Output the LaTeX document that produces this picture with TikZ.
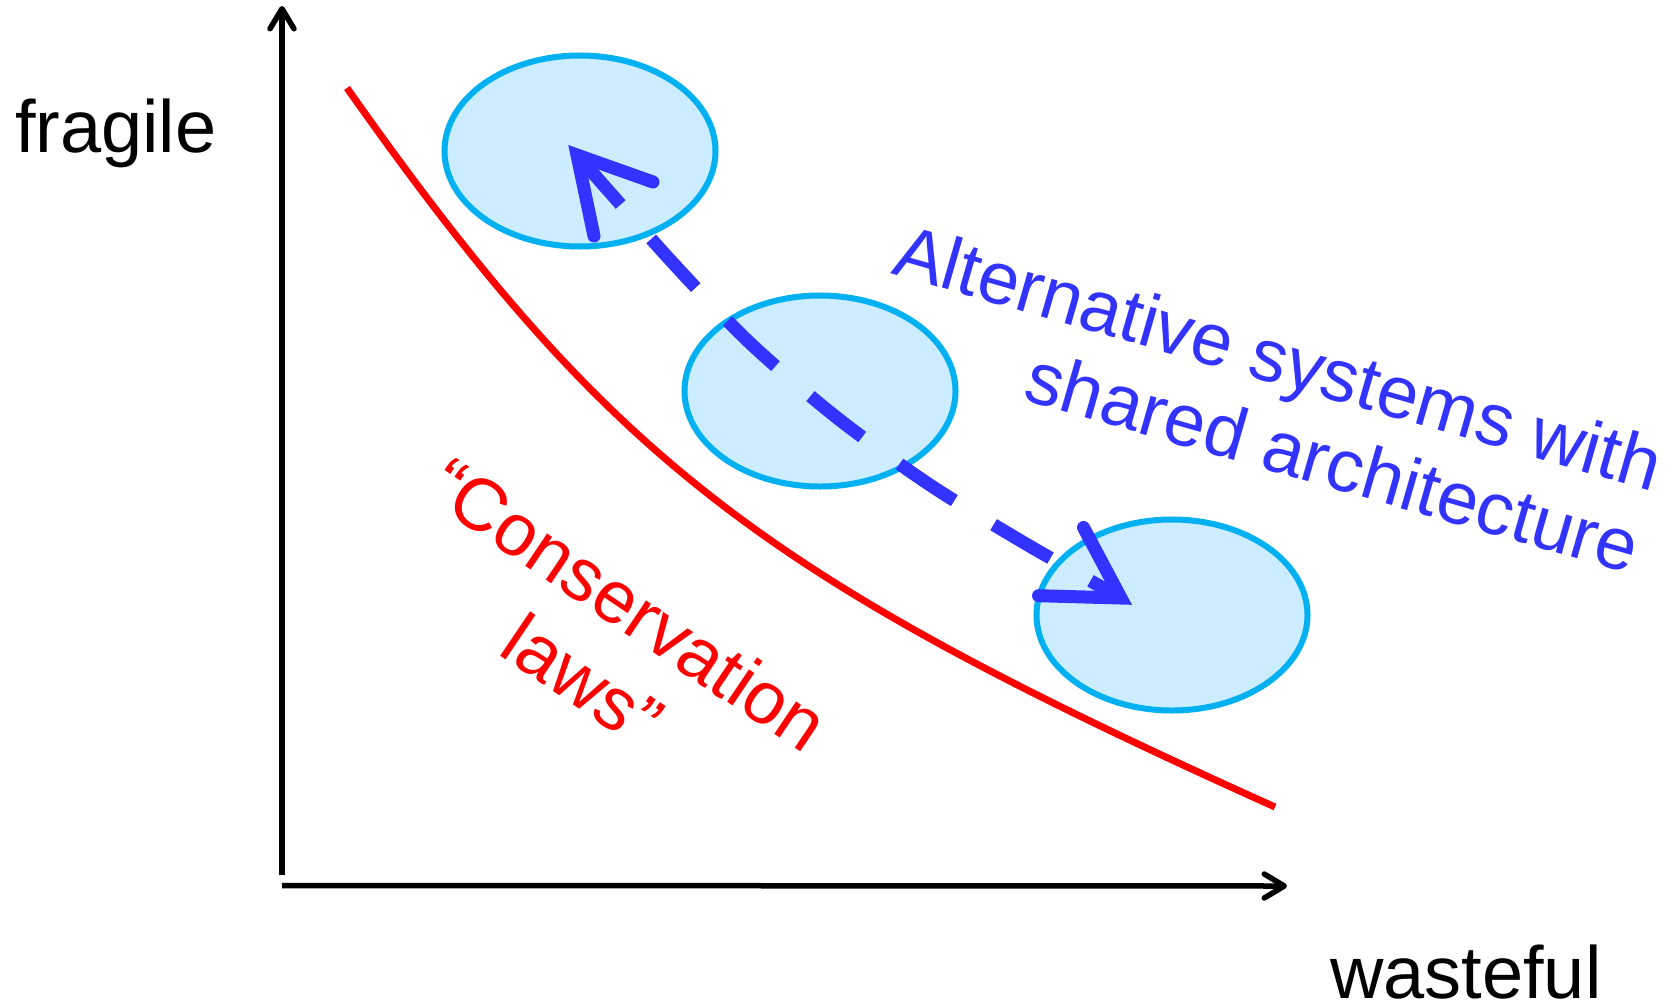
\documentclass[tikz,border=0pt]{standalone}
\usepackage{fontspec}
\setmainfont{Liberation Sans}
\usetikzlibrary{shapes.geometric,arrows.meta}
\definecolor{arrowblue}{HTML}{3333FF}
\definecolor{ellborder}{HTML}{00B0F0}
\definecolor{ellfill}{HTML}{CCECFF}
\definecolor{lawred}{HTML}{FF0000}
\begin{document}
\begin{tikzpicture}[x=1pt,y=-1pt,
  bigtext/.style={font=\fontsize{74}{85}\selectfont, inner sep=0pt, outer sep=0pt},
  sysell/.style={ellipse, draw=ellborder, fill=ellfill, line width=6pt,
    minimum width=271pt, minimum height=191pt, inner sep=0pt},
  axisline/.style={line width=5.5pt, -{Straight Barb[round,length=20pt,width=24pt]}},
  shaft/.style={draw=arrowblue, line width=13pt, line cap=butt, dash pattern=on 66pt off 46pt},
  headstyle/.style={draw=arrowblue, line width=13pt, line join=miter, line cap=round},
  lawcurve/.style={draw=lawred, line width=7pt}
]
\useasboundingbox (0,0) rectangle (1676,1004);
% axes
\coordinate (ybot) at (282,875);
\coordinate (ytop) at (282,6);
\coordinate (xleft) at (282,885.5);
\coordinate (xright) at (1287,886);
\draw[axisline] (ybot) -- (ytop);
\draw[axisline] (xleft) -- (xright);
% axis labels
\node[bigtext, anchor=base west] (fragile) at (15,152) {fragile};
\node[bigtext, anchor=base west] (wasteful) at (1330,998) {wasteful};
% red curve
\coordinate (lawA) at (347,88);
\coordinate (lawB) at (1275,807);
\draw[lawcurve] (lawA) .. controls (612,464) and (764,577) .. (lawB);
\node[bigtext, text=lawred, rotate=-34, anchor=base] (cons) at (614,626) {“Conservation};
\node[bigtext, text=lawred, rotate=-34, anchor=base] (laws) at (568,702) {laws”};
% ellipses
\node[sysell] (e1) at (580,151) {};
\node[sysell] (e2) at (820,391) {};
\node[sysell] (e3) at (1172,615) {};
% double arrow
\coordinate (tipA) at (577,155);
\coordinate (tipB) at (1121,598);
\coordinate (wA1) at (594,236);
\coordinate (wA2) at (653,182);
\coordinate (wB1) at (1083.5,527.5);
\coordinate (wB2) at (1038.5,595.7);
\draw[shaft] plot[smooth, tension=0.5] coordinates {(tipA) (672,262) (750,343) (836,417) (927,483) (1021,541) (tipB)};
\draw[headstyle] (wA1) -- (tipA) -- (wA2);
\draw[headstyle] (wB1) -- (tipB) -- (wB2);
% blue text
\node[bigtext, text=arrowblue, rotate=-16, anchor=base east] (alt1) at (1653,492) {Alternative systems with};
\node[bigtext, text=arrowblue, rotate=-16, anchor=base east] (alt2) at (1630,574) {shared architecture};
\end{tikzpicture}
\end{document}
